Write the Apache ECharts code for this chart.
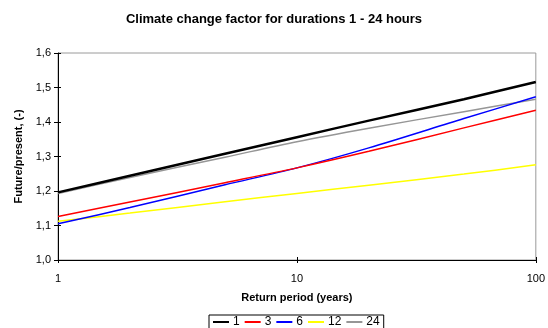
<!DOCTYPE html>
<html><head><meta charset="utf-8">
<script src="https://cdn.jsdelivr.net/npm/echarts@6/dist/echarts.min.js"></script>
<style>html,body{margin:0;padding:0;background:#fff}#c{width:548px;height:328px}</style>
</head><body><div id="c"></div>
<script>
const returnPeriods = [1, 2, 5, 10, 20, 50, 100];
const d1  = [1.196, 1.244, 1.308, 1.356, 1.404, 1.466, 1.516];
const d3  = [1.126, 1.168, 1.224, 1.267, 1.315, 1.383, 1.434];
const d6  = [1.105, 1.152, 1.218, 1.267, 1.325, 1.410, 1.473];
const d12 = [1.112, 1.136, 1.169, 1.193, 1.217, 1.249, 1.276];
const d24 = [1.193, 1.239, 1.298, 1.343, 1.382, 1.430, 1.466];
const seriesNames = ['1', '3', '6', '12', '24'];
const seriesData = [d1, d3, d6, d12, d24];
const colors = ['#000000', '#ff0000', '#0000ff', '#ffff00', '#969696'];
const widths = [2.5, 1.5, 1.5, 1.5, 1.5];
const yTicks = [1.0, 1.1, 1.2, 1.3, 1.4, 1.5, 1.6];

const font = 'Liberation Sans, Arial, sans-serif';
const chart = echarts.init(document.getElementById('c'));
const xBase = {
  type: 'log', logBase: 10, min: 1, max: 100,
  axisLine: {lineStyle: {color: '#000', width: 1}},
  splitLine: {show: false}, minorTick: {show: false}
};
chart.setOption({
  animation: false,
  title: {text: 'Climate change factor for durations 1 - 24 hours', left: 'center', top: 8,
    textStyle: {fontFamily: font, fontSize: 13, fontWeight: 'bold', color: '#000'}},
  grid: {left: 58, right: 12, top: 53, bottom: 68, show: true, borderColor: '#9a9a9a', borderWidth: 1, backgroundColor: '#fff'},
  legend: {
    left: 209, top: 315, padding: [1, 4, 1, 4], itemGap: 5, itemWidth: 16, itemHeight: 2,
    borderColor: '#000', borderWidth: 1, icon: 'rect',
    textStyle: {fontFamily: font, fontSize: 12, color: '#000', padding: [0, 0, 0, -1]},
    data: seriesNames
  },
  xAxis: [
    Object.assign({}, xBase, {
      axisTick: {show: true, inside: false, length: 3, lineStyle: {color: '#000'}},
      axisLabel: {fontFamily: font, fontSize: 11, color: '#000', margin: 13},
      name: 'Return period (years)', nameLocation: 'middle', nameGap: 32,
      nameTextStyle: {fontFamily: font, fontSize: 11, fontWeight: 'bold', color: '#000'}
    }),
    Object.assign({}, xBase, {position: 'bottom', axisTick: {show: true, inside: true, length: 3, lineStyle: {color: '#000'}}, axisLabel: {show: false}})
  ],
  yAxis: [{
    type: 'value', min: 1.0, max: 1.6, interval: 0.1,
    axisLine: {show: true, lineStyle: {color: '#000'}},
    axisTick: {show: true, length: 4, lineStyle: {color: '#000'}},
    splitLine: {show: false},
    axisLabel: {fontFamily: font, fontSize: 11, color: '#000', margin: 7,
      formatter: v => v.toFixed(1).replace('.', ',')},
    name: 'Future/present, (-)', nameLocation: 'middle', nameGap: 34, nameRotate: 90,
    nameTextStyle: {fontFamily: font, fontSize: 11, fontWeight: 'bold', color: '#000'}
  }, {
    type: 'value', min: 1.0, max: 1.6, interval: 0.1, position: 'left',
    axisLine: {show: false}, axisTick: {show: true, inside: true, length: 3, lineStyle: {color: '#000'}},
    axisLabel: {show: false}, splitLine: {show: false}
  }],
  series: seriesNames.map((n, i) => ({
    name: n, type: 'line', smooth: 0.3, showSymbol: false, symbol: 'none',
    xAxisIndex: 0, yAxisIndex: 0,
    color: colors[i],
    lineStyle: {color: colors[i], width: widths[i]},
    itemStyle: {color: colors[i]},
    z: 10 - i,
    data: returnPeriods.map((x, j) => [x, seriesData[i][j]])
  }))
});
</script></body></html>
